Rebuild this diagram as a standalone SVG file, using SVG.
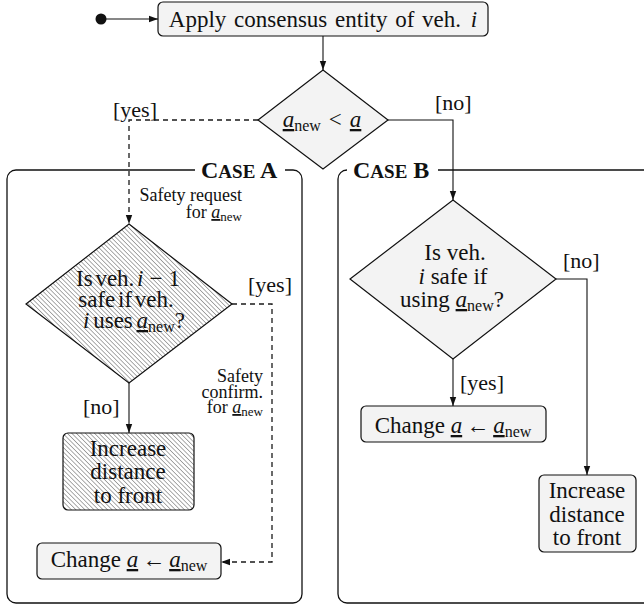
<svg xmlns="http://www.w3.org/2000/svg" width="644" height="606" viewBox="0 0 644 606" font-family="'Liberation Serif', 'DejaVu Serif', serif">
<defs>
<style>
text{font-family:'Liberation Serif','DejaVu Serif',serif;fill:#111;}
.t{font-size:23px;text-anchor:middle;}
.lab{font-size:22px;}
.sm{font-size:18px;text-anchor:end;}
.it{font-style:italic;}
.ul{font-style:italic;text-decoration:underline;}
.box{fill:#f3f3f3;stroke:#111;stroke-width:1.2;}
.hatch{fill:url(#hatch);stroke:#111;stroke-width:1.2;}
.frame{fill:none;stroke:#111;stroke-width:1.3;}
.title{font-size:24px;font-weight:bold;}
.c{fill:none;stroke:#111;stroke-width:1.1;}
.d{fill:none;stroke:#1a1a1a;stroke-width:1.3;stroke-dasharray:5 4;}
</style>
<pattern id="hatch" patternUnits="userSpaceOnUse" width="3.2" height="10" patternTransform="rotate(-45)">
<rect x="0" y="0" width="3.2" height="10" fill="#fff"/>
<rect x="0" y="0" width="0.7" height="10" fill="#888"/>
</pattern>
<marker id="ar" markerUnits="userSpaceOnUse" markerWidth="10" markerHeight="10" viewBox="0 0 10 10" refX="9" refY="5" orient="auto">
<path d="M0,1.8 L9,5 L0,8.2 Z" fill="#111"/>
</marker>
</defs>

<g id="caseA">
<rect class="frame" x="7" y="170" width="295" height="433" rx="9"/>
<rect x="195" y="160" width="90" height="20" fill="#fff"/>
<text class="title" x="201" y="178">C<tspan font-size="19">ASE</tspan> A</text>
</g>
<g id="caseB">
<rect class="frame" x="338" y="170" width="330" height="433" rx="9"/>
<rect x="347" y="160" width="91" height="20" fill="#fff"/>
<text class="title" x="353" y="178">C<tspan font-size="19">ASE</tspan> B</text>
</g>

<g id="start"><circle cx="101" cy="19" r="5.5" fill="#111"/></g>

<g id="apply">
<rect class="box" x="158" y="2" width="330" height="34" rx="5"/>
<text class="t" x="323" y="27" word-spacing="2">Apply consensus entity of veh. <tspan class="it" dx="2">i</tspan></text>
</g>

<g id="decision">
<path class="box" d="M323,70 L388,120 L323,169 L258,120 Z"/>
<text class="t" x="322" y="127"><tspan class="ul">a</tspan><tspan font-size="16" dy="4">new</tspan><tspan dy="-4" dx="8">&lt;</tspan><tspan class="ul" dx="8">a</tspan></text>
</g>

<g id="checkA">
<path class="hatch" d="M129,224 L232,304 L129,383 L26,304 Z"/>
<text class="t" x="128" y="286" word-spacing="-3">Is veh. <tspan class="it">i</tspan><tspan dx="6">−</tspan><tspan dx="6">1</tspan></text>
<text class="t" x="126" y="307" word-spacing="-3">safe if veh.</text>
<text class="t" x="134" y="328" word-spacing="-2"><tspan class="it">i</tspan> uses <tspan class="ul">a</tspan><tspan font-size="16" dy="4">new</tspan><tspan dy="-4">?</tspan></text>
</g>

<g id="increaseA">
<rect class="hatch" x="63" y="433" width="131" height="77" rx="5"/>
<text class="t" x="128" y="456">Increase</text>
<text class="t" x="128" y="479">distance</text>
<text class="t" x="128" y="503">to front</text>
</g>

<g id="changeA">
<rect class="box" x="37" y="543" width="184" height="36" rx="5"/>
<text class="t" x="129" y="567">Change <tspan class="ul">a</tspan><tspan dx="4">←</tspan><tspan class="ul" dx="4">a</tspan><tspan font-size="16" dy="4">new</tspan></text>
</g>

<g id="checkB">
<path class="box" d="M453,200 L556,279 L453,359 L350,279 Z"/>
<text class="t" x="455" y="260">Is veh.</text>
<text class="t" x="453" y="284"><tspan class="it">i</tspan> safe if</text>
<text class="t" x="452" y="307">using <tspan class="ul">a</tspan><tspan font-size="16" dy="4">new</tspan><tspan dy="-4">?</tspan></text>
</g>

<g id="changeB">
<rect class="box" x="361" y="406" width="185" height="36" rx="5"/>
<text class="t" x="453" y="433">Change <tspan class="ul">a</tspan><tspan dx="4">←</tspan><tspan class="ul" dx="4">a</tspan><tspan font-size="16" dy="4">new</tspan></text>
</g>

<g id="increaseB">
<rect class="box" x="539" y="475" width="97" height="77" rx="5"/>
<text class="t" x="587" y="498">Increase</text>
<text class="t" x="587" y="522">distance</text>
<text class="t" x="587" y="545">to front</text>
</g>

<g id="connectors">
<path class="c" d="M106,19 H158" marker-end="url(#ar)"/>
<path class="c" d="M323,36 V70" marker-end="url(#ar)"/>
<path class="d" d="M258,120 H129 V224" marker-end="url(#ar)"/>
<path class="c" d="M388,120 H453 V200" marker-end="url(#ar)"/>
<path class="c" d="M129,383 V433" marker-end="url(#ar)"/>
<path class="d" d="M232,304 H272 V562 H221" marker-end="url(#ar)"/>
<path class="c" d="M453,359 V406" marker-end="url(#ar)"/>
<path class="c" d="M556,279 H587 V475" marker-end="url(#ar)"/>
<text class="lab" x="113" y="117">[yes]</text>
<text class="lab" x="435" y="110">[no]</text>
<text class="sm" x="242" y="201">Safety request</text>
<text class="sm" x="242" y="218">for <tspan class="ul">a</tspan><tspan font-size="13" dy="3">new</tspan></text>
<text class="lab" x="248" y="292">[yes]</text>
<text class="lab" x="83" y="414">[no]</text>
<text class="sm" x="263" y="382">Safety</text>
<text class="sm" x="263" y="398">confirm.</text>
<text class="sm" x="263" y="413">for <tspan class="ul">a</tspan><tspan font-size="13" dy="3">new</tspan></text>
<text class="lab" x="563" y="268">[no]</text>
<text class="lab" x="460" y="390">[yes]</text>
</g>
</svg>
